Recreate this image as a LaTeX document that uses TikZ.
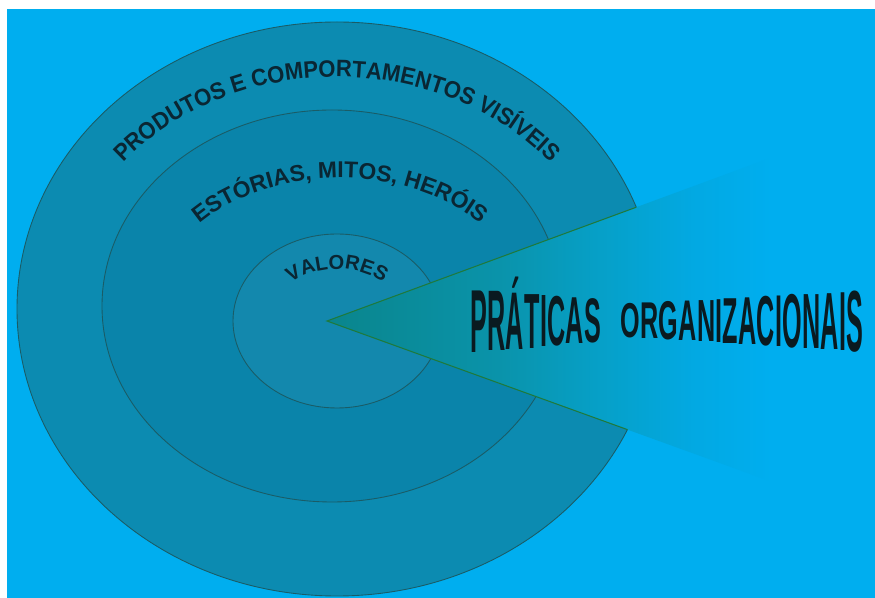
\documentclass[tikz,border=0pt]{standalone}
\usepackage{fontspec}
\setmainfont{Liberation Sans}
\newfontfamily\ringface{Liberation Sans}[FakeStretch=0.93]
\usetikzlibrary{decorations.text}

\definecolor{skyblue}{HTML}{00AEEF}
\definecolor{outerfill}{HTML}{0C8BB1}
\definecolor{midfill}{HTML}{0A84AA}
\definecolor{corefill}{HTML}{1388AD}
\definecolor{ringline}{HTML}{1A5C66}
\definecolor{ringtext}{HTML}{0A2633}
\definecolor{wedgeteal}{HTML}{0A858C}
\definecolor{wedgemid}{HTML}{0A93AA}
\definecolor{wedgelight}{HTML}{06A0C8}
\definecolor{wedgepale}{HTML}{02A9E3}
\definecolor{wedgeedge}{HTML}{1E7A3C}
\definecolor{signink}{HTML}{0A1A20}

% fade of the wedge, from teal at the tip to the background
\pgfdeclarehorizontalshading{wedgefade}{100bp}{color(0bp)=(wedgeteal); color(25bp)=(wedgeteal);
  color(43bp)=(wedgemid); color(54bp)=(wedgelight); color(64bp)=(wedgepale);
  color(72bp)=(skyblue); color(100bp)=(skyblue)}

\newcommand\outerfont{\ringface\fontsize{13.5}{15}\selectfont\bfseries}
\newcommand\midfont{\fontsize{13}{15}\selectfont\bfseries}
\newcommand\corefont{\fontsize{11.5}{13}\selectfont\bfseries}
\newcommand\signfont{\fontsize{39.8}{44}\selectfont\bfseries}

\begin{document}
\begin{tikzpicture}[
  x=0.2mm,y=0.2mm,
  ring/.style={draw=ringline,line width=0.5pt},
  ringlabel/.style={decorate,decoration={text along path,text align=center,text color=ringtext}},
  bigletter/.style={anchor=west,inner sep=0pt,text height=28.5pt,text depth=0pt,xscale=0.36,
    font=\signfont,text=signink},
]
\useasboundingbox (0,0) rectangle (875,598);
\fill[white] (0,0) rectangle (875,598);
\fill[skyblue] (7,0) rectangle (875,589);

% the three layers
\filldraw[ring,fill=outerfill] (337,289) ellipse [x radius=320,y radius=287];
\filldraw[ring,fill=midfill] (332,292) ellipse [x radius=230,y radius=196];
\filldraw[ring,fill=corefill] (337,277) ellipse [x radius=104,y radius=87];

% curved labels
\path[ringlabel,decoration={text={|\outerfont|PRODUTOS E COMPORTAMENTOS VISÍVEIS}}]
  (337,289) ++(160:275 and 232) arc[start angle=160,end angle=20,x radius=275,y radius=232];
\path[ringlabel,decoration={text={|\midfont|ESTÓRIAS, MITOS, HERÓIS}}]
  (340,289) ++(155:185 and 131) arc[start angle=155,end angle=25,x radius=185,y radius=131];
\path[ringlabel,decoration={text={|\corefont|VALORES}}]
  (337,277) ++(150:68 and 52) arc[start angle=150,end angle=30,x radius=68,y radius=52];

% wedge
\coordinate (apex) at (327,277);
\coordinate (wu) at (800,451);
\coordinate (wl) at (800,106);
\shade[shading=wedgefade] (apex) -- (wu) -- (wl) -- cycle;
\begin{scope}
  \clip (337,289) ellipse [x radius=320,y radius=287];
  \draw[wedgeedge,line width=0.6pt] (wu) -- (apex) -- (wl);
\end{scope}

% title, letter by letter
\node[inner sep=0pt,minimum size=0pt] (w0) at (470,278) {};
\foreach \ch/\ys [count=\i,remember=\i as \j (initially 0)] in
  {P/1.28,R/1.23,Á/1.17,T/1.12,I/1.06,C/1.01,A/0.95,S/0.90}
  \node[bigletter,yscale=\ys] (w\i) at (w\j.east) {\ch};
\node[inner sep=0pt,minimum size=0pt] (o0) at (620,278) {};
\foreach \ch/\ys [count=\i,remember=\i as \j (initially 0)] in
  {O/0.70,R/0.74,G/0.78,A/0.82,N/0.85,I/0.89,Z/0.93,A/0.97,C/1.01,I/1.05,O/1.09,N/1.12,A/1.16,I/1.20,S/1.24}
  \node[bigletter,yscale=\ys] (o\i) at (o\j.east) {\ch};
\end{tikzpicture}
\end{document}
